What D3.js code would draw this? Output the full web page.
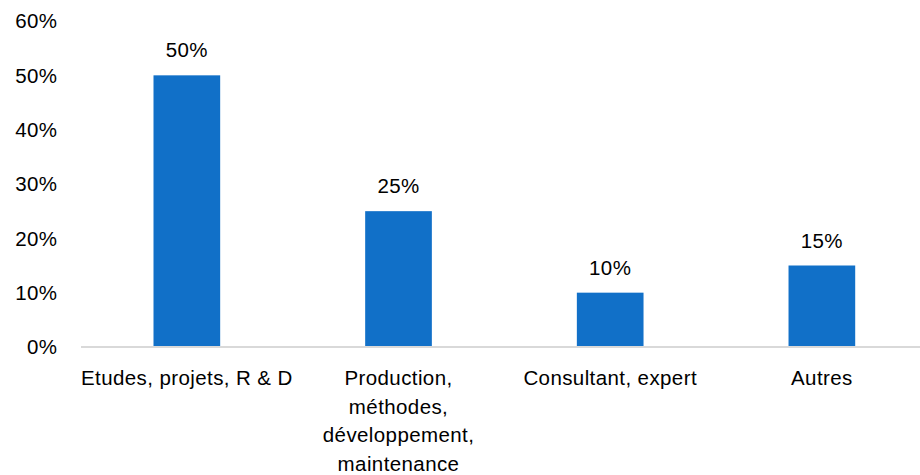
<!DOCTYPE html>
<html><head><meta charset="utf-8">
<script src="https://cdn.jsdelivr.net/npm/d3@7"></script>
<style>body{margin:0;background:#fff}svg{display:block}text{font-family:"Liberation Sans",Arial,sans-serif;fill:#000;letter-spacing:0.4px}</style>
</head><body><svg id="c" width="920" height="475"></svg>
<script>
const categories = [["Etudes, projets, R & D"], ["Production,", "méthodes,", "développement,", "maintenance"], ["Consultant, expert"], ["Autres"]];
const values = [0.50, 0.25, 0.10, 0.15];
const tickValues = [0, 0.1, 0.2, 0.3, 0.4, 0.5, 0.6];

const svg = d3.select("#c");
const x = d3.scaleBand().domain(d3.range(categories.length)).range([81, 927.7]).paddingInner(0.685).paddingOuter(0.3425);
const y = d3.scaleLinear().domain([0, 0.6]).range([347, 21]);
const fmt = d3.format(".0%");
const fs = 20.5;

// y tick labels
svg.append("g").selectAll("text").data(tickValues).join("text")
  .attr("x", 57.5).attr("y", d => y(d)).attr("dy", "0.35em")
  .attr("text-anchor", "end").attr("font-size", fs).text(fmt);

// bars
svg.append("g").selectAll("rect").data(values).join("rect")
  .attr("x", (d, i) => x(i)).attr("width", x.bandwidth())
  .attr("y", d => y(d)).attr("height", d => y(0) - y(d))
  .attr("fill", "#1170c8");

// axis line
svg.append("line").attr("x1", 81).attr("x2", 927.7).attr("y1", y(0)).attr("y2", y(0))
  .attr("stroke", "#d9d9d9").attr("stroke-width", 2);

// data labels
svg.append("g").selectAll("text").data(values).join("text")
  .attr("x", (d, i) => x(i) + x.bandwidth() / 2).attr("y", d => y(d) - 18)
  .attr("text-anchor", "middle").attr("font-size", fs).text(fmt);

// category labels
const cg = svg.append("g").selectAll("text").data(categories).join("text")
  .attr("text-anchor", "middle").attr("font-size", fs)
  .attr("transform", (d, i) => `translate(${x(i) + x.bandwidth() / 2},385)`);
cg.selectAll("tspan").data(d => d).join("tspan")
  .attr("x", 0).attr("y", (d, j) => j * 28.5).text(d => d);
</script></body></html>
